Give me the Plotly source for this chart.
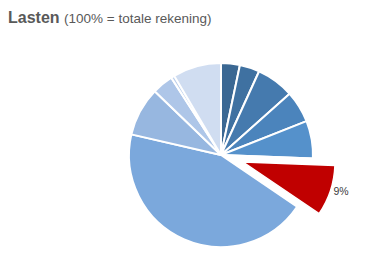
import plotly.graph_objects as go

# Data (percent of total bill), clockwise from 12 o'clock
categories = ["Post 1", "Post 2", "Post 3", "Post 4", "Post 5", "Post 6",
              "Post 7", "Post 8", "Post 9", "Post 10", "Post 11"]
values = [3.3, 3.5, 6.6, 5.6, 6.6, 8.9, 44.1, 8.6, 3.7, 0.6, 8.5]
colors = ["#3B6893", "#3F71A1", "#457AAE", "#4B84BC", "#5591CB", "#C00000",
          "#7BA8DC", "#97B7E0", "#AEC6E8", "#BDD0EC", "#D0DDF1"]
highlight = 5  # index of the exploded slice

W, H = 370, 265
cx, cy, r = 221, 155, 92          # pie centre / radius in px
shift_x, shift_y = 22, 7          # explode offset of the highlighted slice (px)

dom_x = [(cx - r) / W, (cx + r) / W]
dom_y = [(H - cy - r) / H, (H - cy + r) / H]

transparent = "rgba(0,0,0,0)"
base_colors = [transparent if i == highlight else c for i, c in enumerate(colors)]
top_colors = [c if i == highlight else transparent for i, c in enumerate(colors)]
top_lw = [1.5 if i == highlight else 0 for i in range(len(values))]
top_tt = ["%{percent:.0%}" if i == highlight else "" for i in range(len(values))]

fig = go.Figure()
fig.add_trace(go.Pie(
    labels=categories, values=values, sort=False, direction="clockwise",
    rotation=0, marker=dict(colors=base_colors, line=dict(color="white", width=2)),
    textinfo="none", hoverinfo="skip", showlegend=False,
    domain=dict(x=dom_x, y=dom_y),
))
fig.add_trace(go.Pie(
    labels=categories, values=values, sort=False, direction="clockwise",
    rotation=0, marker=dict(colors=top_colors, line=dict(color="white", width=top_lw)),
    texttemplate=top_tt, textposition="outside",
    outsidetextfont=dict(size=10.5, color="#404040", family="Liberation Sans, Arial, sans-serif"),
    hoverinfo="skip", showlegend=False,
    domain=dict(x=[dom_x[0] + shift_x / W, dom_x[1] + shift_x / W],
                y=[dom_y[0] - shift_y / H, dom_y[1] - shift_y / H]),
))

fig.update_layout(
    width=W, height=H, margin=dict(l=0, r=0, t=0, b=0),
    paper_bgcolor="white", plot_bgcolor="white",
    font=dict(family="Liberation Sans, Arial, sans-serif", color="#595959"),
    title=dict(
        text="<b>Lasten</b> <span style='font-size:13.5px'>(100% = totale rekening)</span>",
        font=dict(size=16, color="#595959"),
        x=8 / W, xanchor="left", xref="paper",
        y=1 - 17 / H, yanchor="middle", yref="paper",
    ),
)

fig.write_html("out.html")
